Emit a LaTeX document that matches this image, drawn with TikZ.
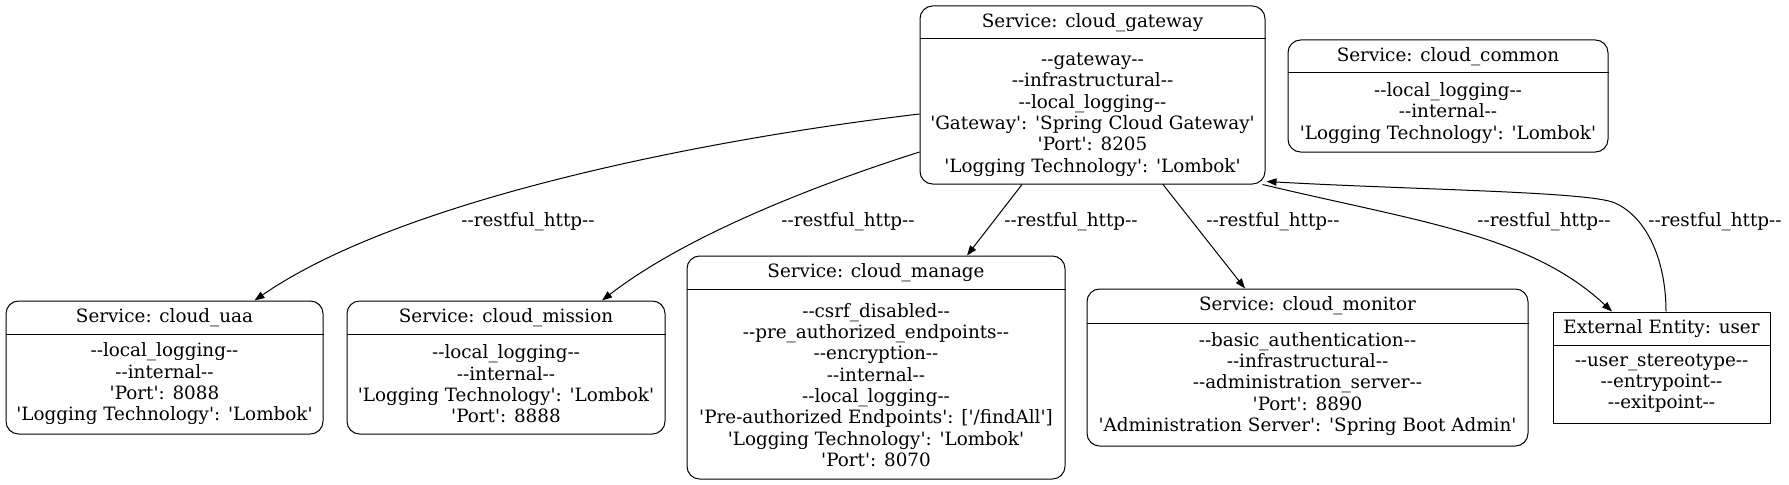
\documentclass[tikz,border=0pt]{standalone}
\usepackage{fontspec}
\newfontfamily\dvs{DejaVu Serif}
\usetikzlibrary{fit,calc,arrows.meta}
\newcommand\mkbox[8]{%
  \node[#2, fit={(#3,#4) (#5,#6)}] (#1) {};
  \draw[line width=0.75pt] (#1.west |- 0,#7) -- (#1.east |- 0,#7);
  \node[txt] (#1h) at ($(#1.north)!0.5!(#1.north |- 0,#7)$) {#8};
}
\begin{document}
\begin{tikzpicture}[x=0.75pt,y=-0.75pt,
  txt/.style={font=\dvs\fontsize{13.76}{16}\selectfont, inner sep=0pt, align=center},
  svcbox/.style={draw, line width=0.75pt, rounded corners=9.5pt, inner sep=0pt},
  entbox/.style={draw, line width=0.75pt, inner sep=0pt},
  conn/.style={draw, line width=0.75pt, -{Triangle[length=7.5pt,width=5.5pt]}},
  lbl/.style={txt}]
\useasboundingbox (0,0) rectangle (1789,485);

% boxes
\mkbox{gw}{svcbox}{920}{6}{1265}{184}{39}{Service: cloud\_gateway}
\node[txt] (gwb) at (1092.5,114.5) {{-}{-}gateway{-}{-}\\{-}{-}infrastructural{-}{-}\\{-}{-}local\_logging{-}{-}\\'Gateway': 'Spring Cloud Gateway'\\'Port': 8205\\'Logging Technology': 'Lombok'};

\mkbox{cm}{svcbox}{1288}{40}{1608}{152}{73}{Service: cloud\_common}
\node[txt] (cmb) at (1448,113) {{-}{-}local\_logging{-}{-}\\{-}{-}internal{-}{-}\\'Logging Technology': 'Lombok'};

\mkbox{uaa}{svcbox}{6}{301}{323}{434}{334}{Service: cloud\_uaa}
\node[txt] (uaab) at (164.5,384) {{-}{-}local\_logging{-}{-}\\{-}{-}internal{-}{-}\\'Port': 8088\\'Logging Technology': 'Lombok'};

\mkbox{ms}{svcbox}{347}{301}{665}{434}{334}{Service: cloud\_mission}
\node[txt] (msb) at (506,384) {{-}{-}local\_logging{-}{-}\\{-}{-}internal{-}{-}\\'Logging Technology': 'Lombok'\\'Port': 8888};

\mkbox{mg}{svcbox}{687}{256}{1065}{479}{289}{Service: cloud\_manage}
\node[txt] (mgb) at (876,385) {{-}{-}csrf\_disabled{-}{-}\\{-}{-}pre\_authorized\_endpoints{-}{-}\\{-}{-}encryption{-}{-}\\{-}{-}internal{-}{-}\\{-}{-}local\_logging{-}{-}\\'Pre-authorized Endpoints': ['/findAll']\\'Logging Technology': 'Lombok'\\'Port': 8070};

\mkbox{mn}{svcbox}{1087}{289}{1528}{446}{323}{Service: cloud\_monitor}
\node[txt] (mnb) at (1307.5,384) {{-}{-}basic\_authentication{-}{-}\\{-}{-}infrastructural{-}{-}\\{-}{-}administration\_server{-}{-}\\'Port': 8890\\'Administration Server': 'Spring Boot Admin'};

\mkbox{us}{entbox}{1553}{312}{1770}{423}{345}{External Entity: user}
\node[txt] (usb) at (1661.5,383) {{-}{-}user\_stereotype{-}{-}\\{-}{-}entrypoint{-}{-}\\{-}{-}exitpoint{-}{-}};

% connectors
\draw[conn] ($(gw.west)+(0,19)$) .. controls (700,140) and (400,200) .. ($(uaa.north)+(90,0)$);
\draw[conn] ($(gw.west)+(0,57)$) .. controls (800,190) and (680,240) .. ($(ms.north)+(96,0)$);
\draw[conn] ($(gw.south)+(-70.5,0)$) -- ($(mg.north)+(91,0)$);
\draw[conn] ($(gw.south)+(70.5,0)$) -- ($(mn.north)+(-62.5,0)$);
\draw[conn] ($(gw.south east)+(-3,0)$) .. controls (1420,222) and (1530,235) .. ($(us.north)+(-49.5,0)$);
\draw[conn] ($(us.north)+(4.5,0)$) .. controls (1666,262) and (1648,218) .. (1615,203) .. controls (1590,191.6) and (1420,190) .. ($(gw.south east)+(1,-3)$);

% labels
\node[lbl] (l1) at (528,222) {{-}{-}restful\_http{-}{-}};
\node[lbl] (l2) at (848,222) {{-}{-}restful\_http{-}{-}};
\node[lbl] (l3) at (1071,222) {{-}{-}restful\_http{-}{-}};
\node[lbl] (l4) at (1273,222) {{-}{-}restful\_http{-}{-}};
\node[lbl] (l5) at (1544,222) {{-}{-}restful\_http{-}{-}};
\node[lbl] (l6) at (1715,222) {{-}{-}restful\_http{-}{-}};
\end{tikzpicture}
\end{document}
